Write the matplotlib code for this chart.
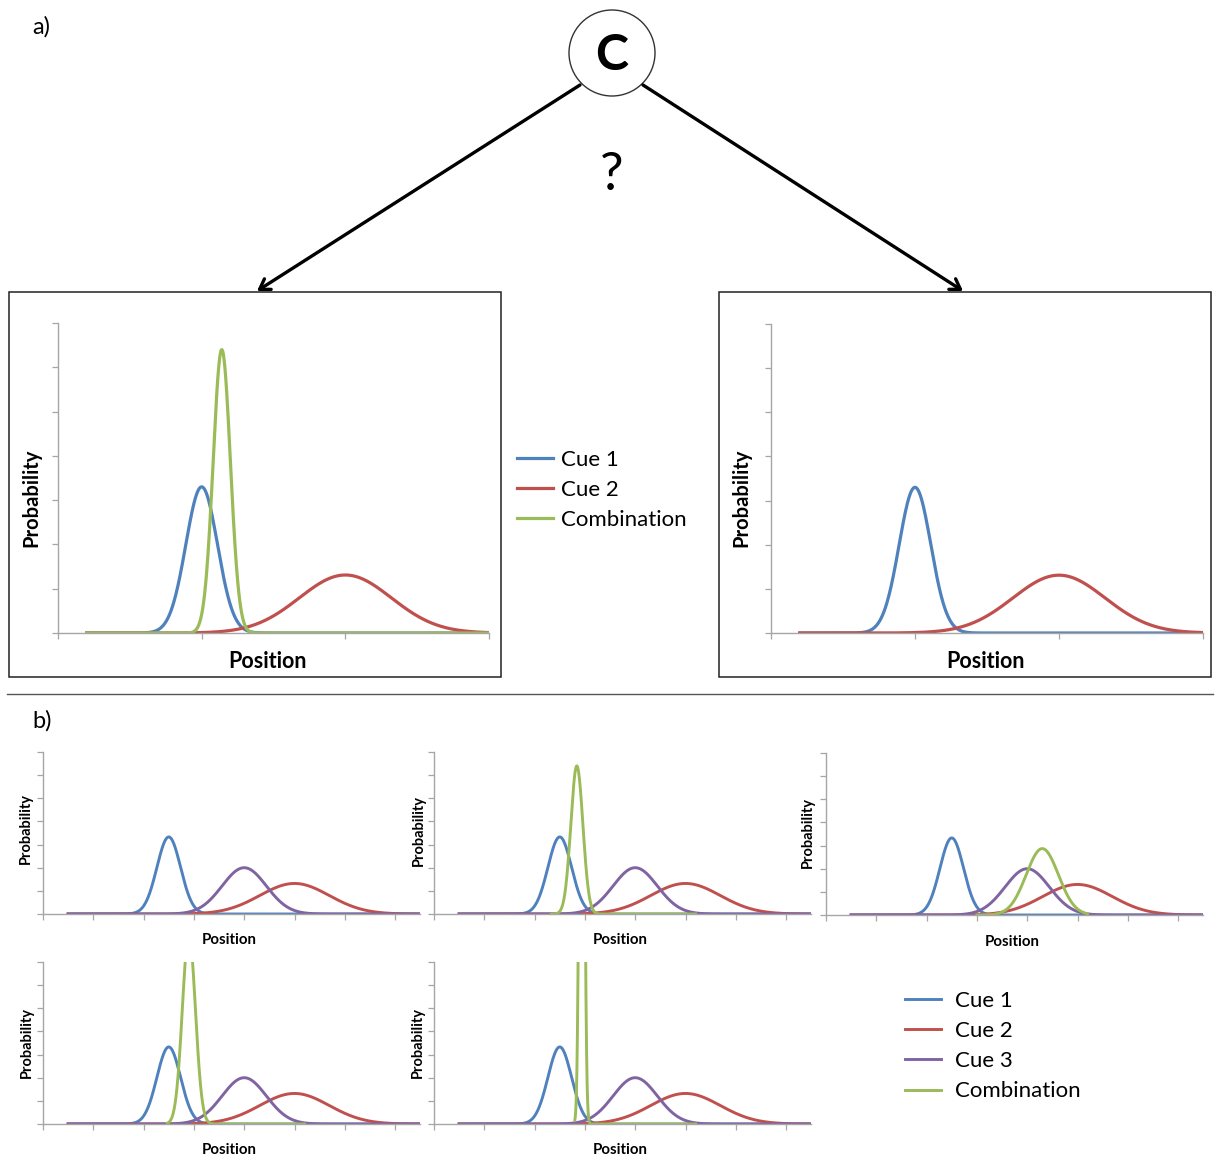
import numpy as np
import matplotlib
matplotlib.use("Agg")
import matplotlib.pyplot as plt
from matplotlib.patches import Circle, Rectangle

W, H = 1217, 1157
plt.rcParams['font.family'] = ['Lato', 'DejaVu Sans']

BLUE = '#4F81BD'
RED = '#C0504D'
PURPLE = '#8064A2'
GREEN = '#9BBB59'
AXIS_GREY = '#a6a6a6'

# ---- part a): two cues, position axis 0..3, probability axis 0..7
a_start, a_end = 0.2, 3.0
a_cue_means = [1.0, 2.0]
a_cue_sds = [0.11, 0.32]
a_cue_peaks = [3.3, 1.31]
a_comb_mean = 1.14
a_comb_sd = 0.06
a_comb_peak = 6.4
a_labels = ['Cue 1', 'Cue 2', 'Combination']

# ---- part b): three cues, position axis 0..7.5
b_start, b_end = 0.5, 7.5
b_cue_means = [2.5, 5.0, 4.0]
b_cue_sds = [0.235, 0.69, 0.44]
b_cue_peaks = [3.33, 1.32, 2.0]
# combination curve in each small panel (first panel has none)
b_comb_means = [None, 2.84, 4.3, 2.9, 2.94]
b_comb_sds = [None, 0.12, 0.32, 0.13, 0.043]
b_comb_peaks = [None, 6.4, 2.87, 8.2, 33.0]
b_comb_starts = [None, 2.33, 3.0, 2.47, 2.8]
b_comb_end = 5.2
b_labels = ['Cue 1', 'Cue 2', 'Cue 3', 'Combination']


def bump(x, mean, sd, peak):
    return peak * np.exp(-0.5 * ((x - mean) / sd) ** 2)


def px_axes(fig, x0, x1, y_top, y_bot):
    return fig.add_axes([x0 / W, 1 - y_bot / H, (x1 - x0) / W, (y_bot - y_top) / H])


def style_axes(ax, xmax, nxt):
    ax.set_xlim(0, xmax)
    ax.set_ylim(0, 7)
    ax.set_xticks(range(nxt + 1))
    ax.set_yticks(range(8))
    ax.set_xticklabels([])
    ax.set_yticklabels([])
    ax.patch.set_alpha(0)
    for s in ['top', 'right']:
        ax.spines[s].set_visible(False)
    for s in ['left', 'bottom']:
        ax.spines[s].set_color(AXIS_GREY)
        ax.spines[s].set_linewidth(1.0)
    ax.tick_params(length=4, width=0.9, color=AXIS_GREY, direction='out')


def ptext(fig, x, y, s, **kw):
    fig.text(x / W, 1 - y / H, s, ha='center', va='center', **kw)


fig = plt.figure(figsize=(W / 100, H / 100), dpi=100)

# overlay in pixel coordinates for the diagram parts
ov = fig.add_axes([0, 0, 1, 1])
ov.set_xlim(0, W)
ov.set_ylim(H, 0)
ov.axis('off')

ov.add_patch(Circle((612, 53), 43, fill=False, ec='#333333', lw=1.0))
ov.text(612, 55, 'C', ha='center', va='center', fontsize=36, fontweight='bold')
ov.text(612, 175, '?', ha='center', va='center', fontsize=38)
for x_from, x_to in [(580, 257), (643, 963)]:
    ov.annotate('', xy=(x_to, 291), xytext=(x_from, 85),
                arrowprops=dict(arrowstyle='->,head_length=0.7,head_width=0.45',
                                lw=2.4, color='black', shrinkA=0, shrinkB=0))
ov.add_patch(Rectangle((9, 292), 492, 385, fill=False, ec='#222222', lw=1.1))
ov.add_patch(Rectangle((719, 292), 492, 385, fill=False, ec='#222222', lw=1.1))
ov.plot([7, 1213], [694, 694], color='#555555', lw=1.0)
ov.text(32, 27, 'a)', ha='left', va='center', fontsize=17)
ov.text(32, 721, 'b)', ha='left', va='center', fontsize=17)

# ---- part a) panels
xa = np.linspace(a_start, a_end, 800)
axL = px_axes(fig, 58, 489, 323, 633)
style_axes(axL, 3, 3)
handles_a = []
for m, sd, pk, c in zip(a_cue_means, a_cue_sds, a_cue_peaks, [BLUE, RED]):
    ln, = axL.plot(xa, bump(xa, m, sd, pk), color=c, lw=2.3)
    handles_a.append(ln)
ln, = axL.plot(xa, bump(xa, a_comb_mean, a_comb_sd, a_comb_peak), color=GREEN, lw=2.3)
handles_a.append(ln)

axR = px_axes(fig, 771, 1203, 324, 633)
style_axes(axR, 3, 3)
for m, sd, pk, c in zip(a_cue_means, a_cue_sds, a_cue_peaks, [BLUE, RED]):
    axR.plot(xa, bump(xa, m, sd, pk), color=c, lw=2.3)

for x_lab in [31, 741]:
    ptext(fig, x_lab, 498, 'Probability', rotation=90, fontsize=14.5, fontweight='bold')
for x_lab in [268, 986]:
    ptext(fig, x_lab, 662, 'Position', fontsize=15.5, fontweight='bold')

fig.legend(handles_a, a_labels, loc='center left',
           bbox_to_anchor=(517 / W, 1 - 490 / H), frameon=False, fontsize=16,
           handlelength=1.6, handletextpad=0.4, labelspacing=0.46, borderpad=0,
           borderaxespad=0)

# ---- part b) panels: (x0, y_top, y_bot, prob label x, prob label y, pos label y)
b_boxes = [(43, 752, 914, 26, 829, 940),
           (434, 752, 914, 419, 830, 940),
           (826, 753, 915, 808, 832, 942),
           (43, 962, 1124, 27, 1043, 1150),
           (434, 962, 1124, 418, 1043, 1150)]
xb = np.linspace(b_start, b_end, 1200)
handles_b = []
for i, (x0, yt, yb, plx, ply, pky) in enumerate(b_boxes):
    ax = px_axes(fig, x0, x0 + 7.5 * 50.3, yt, yb)
    style_axes(ax, 7.5, 7)
    hs = []
    for m, sd, pk, c in zip(b_cue_means, b_cue_sds, b_cue_peaks, [BLUE, RED, PURPLE]):
        ln, = ax.plot(xb, bump(xb, m, sd, pk), color=c, lw=2.1)
        hs.append(ln)
    if b_comb_means[i] is not None:
        xc = np.linspace(b_comb_starts[i], b_comb_end, 1500)
        ln, = ax.plot(xc, bump(xc, b_comb_means[i], b_comb_sds[i], b_comb_peaks[i]),
                      color=GREEN, lw=2.1)
        hs.append(ln)
    if i == 1:
        handles_b = hs
    ptext(fig, plx, ply, 'Probability', rotation=90, fontsize=10.5, fontweight='bold')
    ptext(fig, x0 + 186, pky, 'Position', fontsize=10.8, fontweight='bold')

fig.legend(handles_b, b_labels, loc='center left',
           bbox_to_anchor=(905 / W, 1 - 1046 / H), frameon=False, fontsize=16,
           handlelength=1.6, handletextpad=0.65, labelspacing=0.46, borderpad=0,
           borderaxespad=0)

fig.savefig('out.png', dpi=100)
